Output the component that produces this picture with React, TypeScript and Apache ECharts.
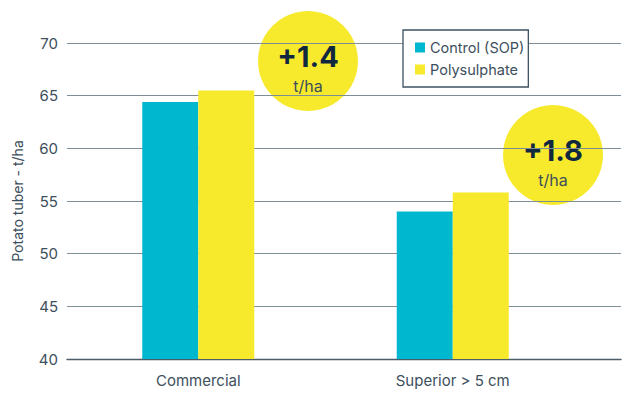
import React, { useEffect, useRef } from "react";
import * as echarts from "echarts";

const categories = ["Commercial", "Superior > 5 cm"];
const controlValues = [64.4, 54.0];
const polyValues = [65.5, 55.8];
const seriesNames = ["Control (SOP)", "Polysulphate"];
const badgeLabels = ["+1.4", "+1.8"];
const badgeUnit = "t/ha";
const yTicks = { min: 40, max: 70, interval: 5 };

const TEXT = "#3d4f5c";
const CYAN = "#00b7d0";
const YELLOW = "#f7ea2c";
const NAVY = "#10283f";
const FONT = "Inter, 'Noto Sans', sans-serif";

export default function App() {
  const ref = useRef<HTMLDivElement>(null);
  useEffect(() => {
    const chart = echarts.init(ref.current!, undefined, { renderer: "svg" });
    const badge = (cx: number, cy: number, label: string) => ({
      type: "group",
      x: cx,
      y: cy,
      z: 20,
      children: [
        { type: "circle", shape: { cx: 0, cy: 0, r: 50 }, style: { fill: YELLOW } },
        {
          type: "text",
          x: 0,
          y: -5,
          style: { text: label, fill: NAVY, font: `bold 29px ${FONT}`, align: "center", verticalAlign: "middle" },
        },
        {
          type: "text",
          x: 0,
          y: 25,
          style: { text: badgeUnit, fill: TEXT, font: `16px ${FONT}`, align: "center", verticalAlign: "middle" },
        },
      ],
    });
    chart.setOption({
      animation: false,
      textStyle: { fontFamily: FONT },
      grid: [
        { left: 67, right: 8, top: 43, bottom: 47 },
        { left: 71, right: 49, top: 43, bottom: 47 },
      ],
      legend: {
        orient: "vertical",
        left: 403,
        top: 30,
        data: seriesNames,
        icon: "rect",
        itemWidth: 10,
        itemHeight: 10,
        itemGap: 7,
        padding: [10, 4, 10, 12],
        backgroundColor: "#ffffff",
        borderColor: "#3d5262",
        borderWidth: 1.3,
        borderRadius: 0,
        z: 10,
        textStyle: { color: TEXT, fontSize: 14.5, fontFamily: FONT, lineHeight: 14 },
      },
      xAxis: [
        {
          gridIndex: 0,
          type: "value",
          min: 0,
          max: 1,
          axisLine: { show: true, onZero: false, lineStyle: { color: "#4b5d6a", width: 1.3 } },
          axisTick: { show: false },
          axisLabel: { show: false },
          splitLine: { show: false },
        },
        {
          gridIndex: 1,
          type: "category",
          data: categories,
          axisLine: { show: false },
          axisTick: { show: false },
          axisLabel: { color: TEXT, fontSize: 15, margin: 14, fontFamily: FONT },
        },
      ],
      yAxis: [
        {
          gridIndex: 0,
          type: "value",
          min: yTicks.min,
          max: yTicks.max,
          interval: yTicks.interval,
          name: "Potato tuber - t/ha",
          nameLocation: "middle",
          nameGap: 43,
          nameTextStyle: { color: TEXT, fontSize: 14, fontFamily: FONT },
          axisLine: { show: false },
          axisTick: { show: false },
          axisLabel: { color: TEXT, fontSize: 15, margin: 9, fontFamily: FONT },
          splitLine: { show: true, lineStyle: { color: "#7d8e99", width: 1.2 } },
        },
        {
          gridIndex: 1,
          type: "value",
          min: yTicks.min,
          max: yTicks.max,
          interval: yTicks.interval,
          show: false,
          splitLine: { show: false },
        },
      ],
      series: [
        {
          name: seriesNames[0],
          type: "bar",
          xAxisIndex: 1,
          yAxisIndex: 1,
          data: controlValues,
          barWidth: 56,
          barGap: "0%",
          itemStyle: { color: CYAN },
        },
        {
          name: seriesNames[1],
          type: "bar",
          xAxisIndex: 1,
          yAxisIndex: 1,
          data: polyValues,
          barWidth: 56,
          barGap: "0%",
          itemStyle: { color: YELLOW },
        },
      ],
      graphic: [badge(308, 61, badgeLabels[0]), badge(553, 155, badgeLabels[1])],
    });
    return () => chart.dispose();
  }, []);
  return <div ref={ref} style={{ position: "absolute", left: 0, top: 0, width: 629, height: 406 }} />;
}
